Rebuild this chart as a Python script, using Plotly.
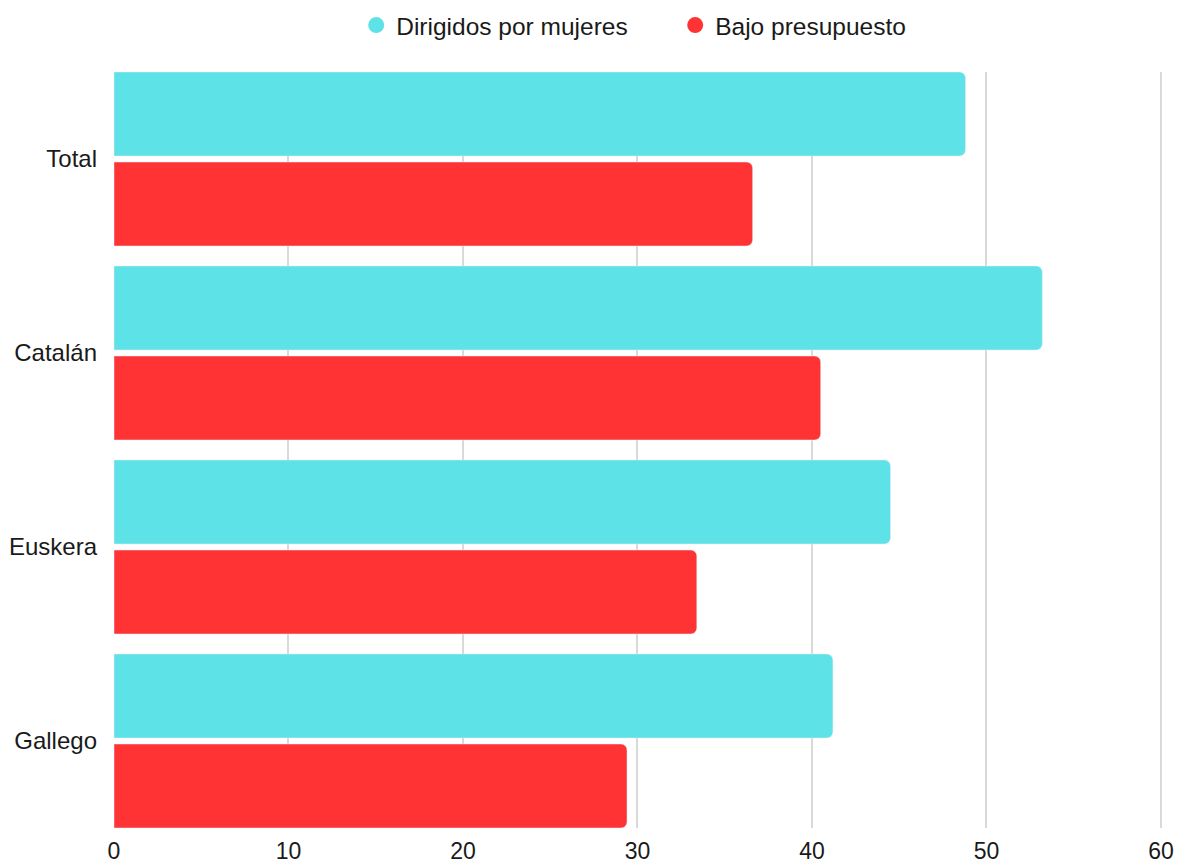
import plotly.graph_objects as go

categories = ["Total", "Catalán", "Euskera", "Gallego"]
mujeres = [48.8, 53.2, 44.5, 41.2]
bajo_presupuesto = [36.6, 40.5, 33.4, 29.4]
x_ticks = [0, 10, 20, 30, 40, 50, 60]

teal = "#5DE2E7"
red = "#FF3333"
font_family = "Liberation Sans, Arial, sans-serif"

fig = go.Figure()
fig.add_trace(go.Bar(y=categories, x=mujeres, orientation="h", marker_color=teal,
                     name="Dirigidos por mujeres", showlegend=False))
fig.add_trace(go.Bar(y=categories, x=bajo_presupuesto, orientation="h", marker_color=red,
                     name="Bajo presupuesto", showlegend=False))
# legend entries with circular markers
fig.add_trace(go.Scatter(x=[None], y=[None], mode="markers", name="Dirigidos por mujeres",
                         marker=dict(color=teal, size=22, symbol="circle")))
fig.add_trace(go.Scatter(x=[None], y=[None], mode="markers", name="Bajo presupuesto",
                         marker=dict(color=red, size=22, symbol="circle")))

fig.update_layout(
    width=1180, height=863,
    margin=dict(l=114, r=18, t=72, b=35, autoexpand=False),
    paper_bgcolor="white", plot_bgcolor="white",
    barmode="group", bargap=0.072, bargroupgap=0.067,
    barcornerradius=6,
    font=dict(family=font_family, size=24, color="#1a1a1a"),
    legend=dict(orientation="h", x=0.5355, xanchor="center", y=1.062, yanchor="middle",
                yref="paper", font=dict(size=24.5), itemsizing="trace",
                traceorder="normal", entrywidth=274),
    xaxis=dict(range=[0, 60.06], tickvals=x_ticks, showgrid=True, gridcolor="#d9d9d9",
               gridwidth=1.5, zeroline=False, showline=False, ticks="",
               tickfont=dict(size=23), automargin=False, ticklabelstandoff=7),
    yaxis=dict(type="category", categoryorder="array", categoryarray=categories,
               range=[3.4485, -0.4485], showgrid=False, zeroline=False, showline=False,
               ticks="", ticklabelstandoff=16, tickfont=dict(size=24), automargin=False),
)

fig.write_html("out.html", config={"displayModeBar": False},
               post_script="document.body.style.margin='0';document.body.style.overflow='hidden';")
